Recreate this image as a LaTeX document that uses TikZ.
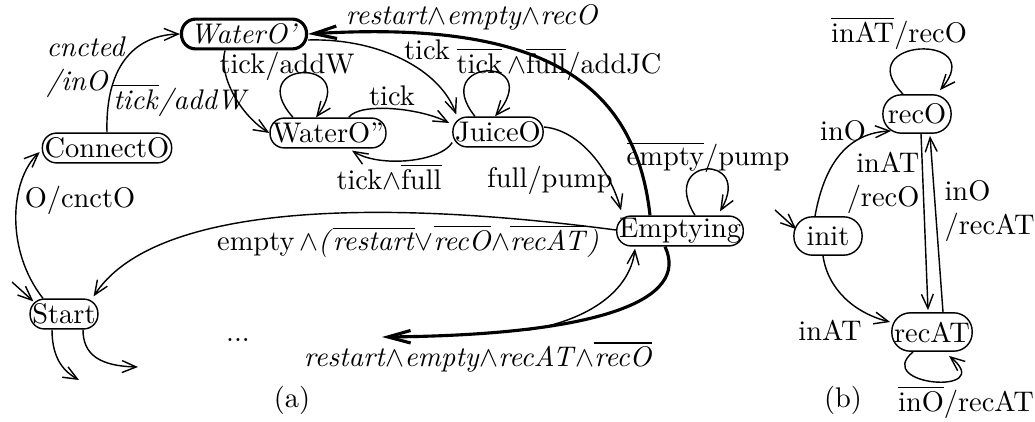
\documentclass[tikz,border=0pt]{standalone}
\usetikzlibrary{arrows.meta,calc}
\newcommand{\obar}[1]{$\overline{\hbox{#1}}$}
\tikzset{
  state/.style={draw, rectangle, rounded corners=5pt, inner xsep=0.8pt, inner ysep=0pt, minimum height=10.5pt, line width=0.5pt},
  bstate/.style={state, rounded corners=6.5pt, minimum height=13.5pt, minimum width=24pt},
  tr/.style={-{Straight Barb[length=5pt,width=4.2pt]}, line width=0.5pt},
  thk/.style={-{Straight Barb[length=8pt,width=4.4pt]}, line width=1.1pt},
  lbl/.style={inner sep=0pt},
}
\begin{document}
\begin{tikzpicture}[x=0.352pt,y=-0.352pt]
\useasboundingbox (0,0) rectangle (1035,421);
% states (a)
\node[state, line width=1.1pt, minimum width=44pt] (WaterO) at (244,34) {\textit{WaterO'}};
\node[state] (ConnectO) at (107,148) {ConnectO};
\node[state] (Start) at (64,314) {Start};
\node[state] (WaterOO) at (328,133) {WaterO''};
\node[state] (JuiceO) at (498,132) {JuiceO};
\node[state] (Emptying) at (680,231) {Emptying};
% states (b)
\node[bstate] (recO) at (917,114) {recO};
\node[bstate] (init) at (828,236) {init};
\node[bstate] (recAT) at (932,332) {recAT};
% free ends
\coordinate (s0) at (12,282);
\coordinate (o1) at (79,380);
\coordinate (o2) at (138,367);
\coordinate (e1) at (382,337);
\coordinate (e2) at (528,330);
\coordinate (i0) at (775,210);
% connectors (a)
\draw[tr] (ConnectO.north) .. controls (105,60) and (140,35) .. (WaterO.west);
\draw[tr] ($(WaterO.south)+(-19,0)$) .. controls (218,75) and (240,115) .. (WaterOO.west);
\draw[tr] ($(WaterOO.north)+(-35,0)$) .. controls (242,60) and (362,56) .. ($(WaterOO.north)+(-12,0)$);
\draw[tr] ($(WaterO.east)+(0,6)$) .. controls (380,38) and (440,70) .. ($(JuiceO.north west)+(4,-2)$);
\draw[tr] ($(WaterOO.north east)+(-38,0)$) .. controls (360,102) and (420,108) .. ($(JuiceO.west)+(-3,-9)$);
\draw[tr] ($(JuiceO.south west)+(0,-5)$) .. controls (440,162) and (380,168) .. ($(WaterOO.south)+(24,2)$);
\draw[tr] ($(JuiceO.north)+(-23,0)$) .. controls (428,58) and (547,54) .. ($(JuiceO.north)+(-3,0)$);
\draw[tr] ($(JuiceO.east)+(0,-5)$) .. controls (580,130) and (610,170) .. ($(Emptying.north west)+(5,-5)$);
\draw[tr] ($(Emptying.north)+(15,0)$) .. controls (658,156) and (754,153) .. ($(Emptying.north)+(40,-4)$);
\draw[thk] ($(Emptying.north)+(-30,0)$) .. controls (635,80) and (540,20) .. (WaterO.east);
\draw[tr] ($(Emptying.west)+(0,-1)$) .. controls (350,195) and (150,210) .. ($(Start.north east)+(-5,-2)$);
\draw[tr] ($(Start.north)+(-21,0)$) .. controls (5,250) and (10,180) .. ($(ConnectO.west)+(-2,4)$);
\draw[tr] (s0) -- ($(Start.north west)+(4,3)$);
\draw[tr] ($(Start.south)+(-12,0)$) .. controls (52,360) and (65,372) .. (o1);
\draw[tr] ($(Start.south)+(19,0)$) .. controls (83,355) and (100,366) .. (o2);
\draw[thk] ($(Emptying.south)+(-15,0)$) .. controls (690,300) and (600,335) .. (e1);
\draw[tr] (e2) .. controls (590,320) and (630,290) .. ($(Emptying.south)+(-45,2)$);
% connectors (b)
\draw[tr] (i0) -- ($(init.north west)+(3,13)$);
\draw[tr] ($(init.north)+(-13,0)$) .. controls (825,160) and (850,133) .. ($(recO.south west)+(9,-3)$);
\draw[tr] ($(init.south)+(-5,0)$) .. controls (828,290) and (855,313) .. ($(recAT.west)+(-1,-10)$);
\draw[tr] ($(recO.south)+(4,0)$) -- ($(recAT.north)+(-4,-2)$);
\draw[tr] ($(recAT.north)+(11,0)$) -- ($(recO.south)+(13,2)$);
\draw[tr] ($(recO.north)+(-14,0)$) .. controls (848,38) and (990,32) .. ($(recO.north)+(23,-4)$);
\draw[tr] ($(recAT.south)+(-19,0)$) .. controls (872,386) and (998,396) .. ($(recAT.south)+(17,4)$);
% labels (a)
\node[lbl, anchor=west, align=left] (lcn) at (46,67) {\textit{cncted}\\\textit{/inO}};
\node[lbl] (ltw) at (287,66) {tick/addW};
\node[lbl] (ltwi) at (181,100) {\obar{\textit{tick}}\textit{/addW}};
\node[lbl] (lt1) at (427,50) {tick};
\node[lbl] (ljc) at (559,64) {\obar{tick}\,$\wedge$\obar{full}/addJC};
\node[lbl] (lt2) at (392,96) {tick};
\node[lbl] (ltf) at (389,177) {tick$\wedge$\obar{full}};
\node[lbl] (lfp) at (550,180) {full/pump};
\node[lbl] (lep) at (708,157) {\obar{empty}/pump};
\node[lbl] (lrec) at (472,17) {\textit{restart}$\wedge$\textit{empty}$\wedge$\textit{recO}};
\node[lbl] (lemp) at (408,241) {empty\,$\wedge$\textit{(}\obar{\textit{restart}}$\vee$\obar{\textit{recO}}$\wedge$\obar{\textit{recAT}}\textit{)}};
\node[lbl] (lrat) at (478,357) {\textit{restart}$\wedge$\textit{empty}$\wedge$\textit{recAT}$\wedge$\obar{\textit{recO}}};
\node[lbl] (lo) at (80,200) {O/cnctO};
\node[lbl] (ldots) at (238,340) {...};
\node[lbl] (la) at (292,400) {(a)};
% labels (b)
\node[lbl] (lrl) at (899,33) {\obar{inAT}/recO};
\node[lbl] (lio) at (843,131) {inO};
\node[lbl, anchor=east, align=right] (liat) at (920,183) {inAT\\/recO};
\node[lbl, anchor=west, align=left] (lior) at (944,211) {inO\\/recAT};
\node[lbl] (liat2) at (830,330) {inAT};
\node[lbl] (lrl2) at (966,402) {\obar{inO}/recAT};
\node[lbl] (lb) at (843,400) {(b)};
\end{tikzpicture}
\end{document}
